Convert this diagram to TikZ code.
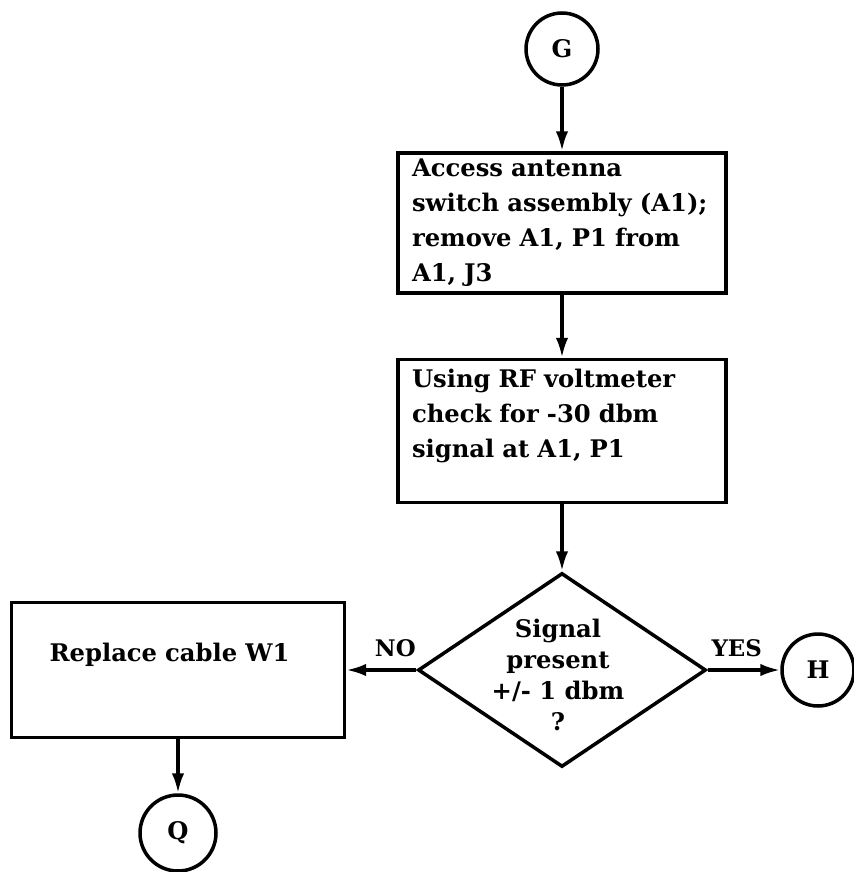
\documentclass[tikz,border=0pt]{standalone}
\usepackage{fontspec}
\setmainfont{DejaVu Serif}
\usepackage{tikz}
\usetikzlibrary{shapes.geometric,arrows.meta}

\begin{document}
\begin{tikzpicture}[x=0.02cm, y=-0.02cm,
  font=\fontsize{13.8}{19.9}\selectfont\bfseries,
  stepbox/.style={draw, line width=2pt, align=left, minimum width=6.56cm, minimum height=2.8cm, text width=6cm},
  decision/.style={diamond, draw, line width=2pt, inner sep=0pt, minimum width=5.76cm, minimum height=3.88cm},
  conn/.style={circle, draw, line width=2pt, inner sep=0pt, minimum size=1.44cm},
  flow/.style={line width=2pt, -{Latex[length=0.4cm, width=0.25cm]}},
  answer/.style={font=\fontsize{13}{15}\selectfont\bfseries}]
  \useasboundingbox (0,0) rectangle (854,872);
  \node[conn] (G) at (562,49) {G};
  \node[stepbox] (B1) at (562,223) {Access antenna\\switch assembly (A1);\\remove A1, P1 from\\A1, J3};
  \node[stepbox, minimum height=2.86cm] (B2) at (562,431) {Using RF voltmeter\\check for -30 dbm\\signal at A1, P1\\\mbox{}};
  \node[decision] (D) at (562,670) {};
  \node[align=center, font=\fontsize{13.8}{17.6}\selectfont\bfseries] (DT) at (558,675) {Signal\\present\\+/- 1 dbm\\?};
  \node[stepbox, minimum width=6.66cm, minimum height=2.7cm, text width=5.14cm] (B3) at (178,670) {Replace cable W1\\\mbox{}};
  \node[conn, minimum size=1.52cm] (Q) at (178,833) {Q};
  \node[conn] (H) at (818,670) {H};
  \draw[flow] (G) -- (B1);
  \draw[flow] (B1) -- (B2);
  \draw[flow] (B2) -- (D);
  \draw[flow] (D.west) -- node[answer, above=3pt, pos=0.3] {NO} (B3.east);
  \draw[flow] (D.east) -- node[answer, above=3pt, pos=0.4] {YES} (H);
  \draw[flow] (B3) -- (Q);
\end{tikzpicture}
\end{document}
